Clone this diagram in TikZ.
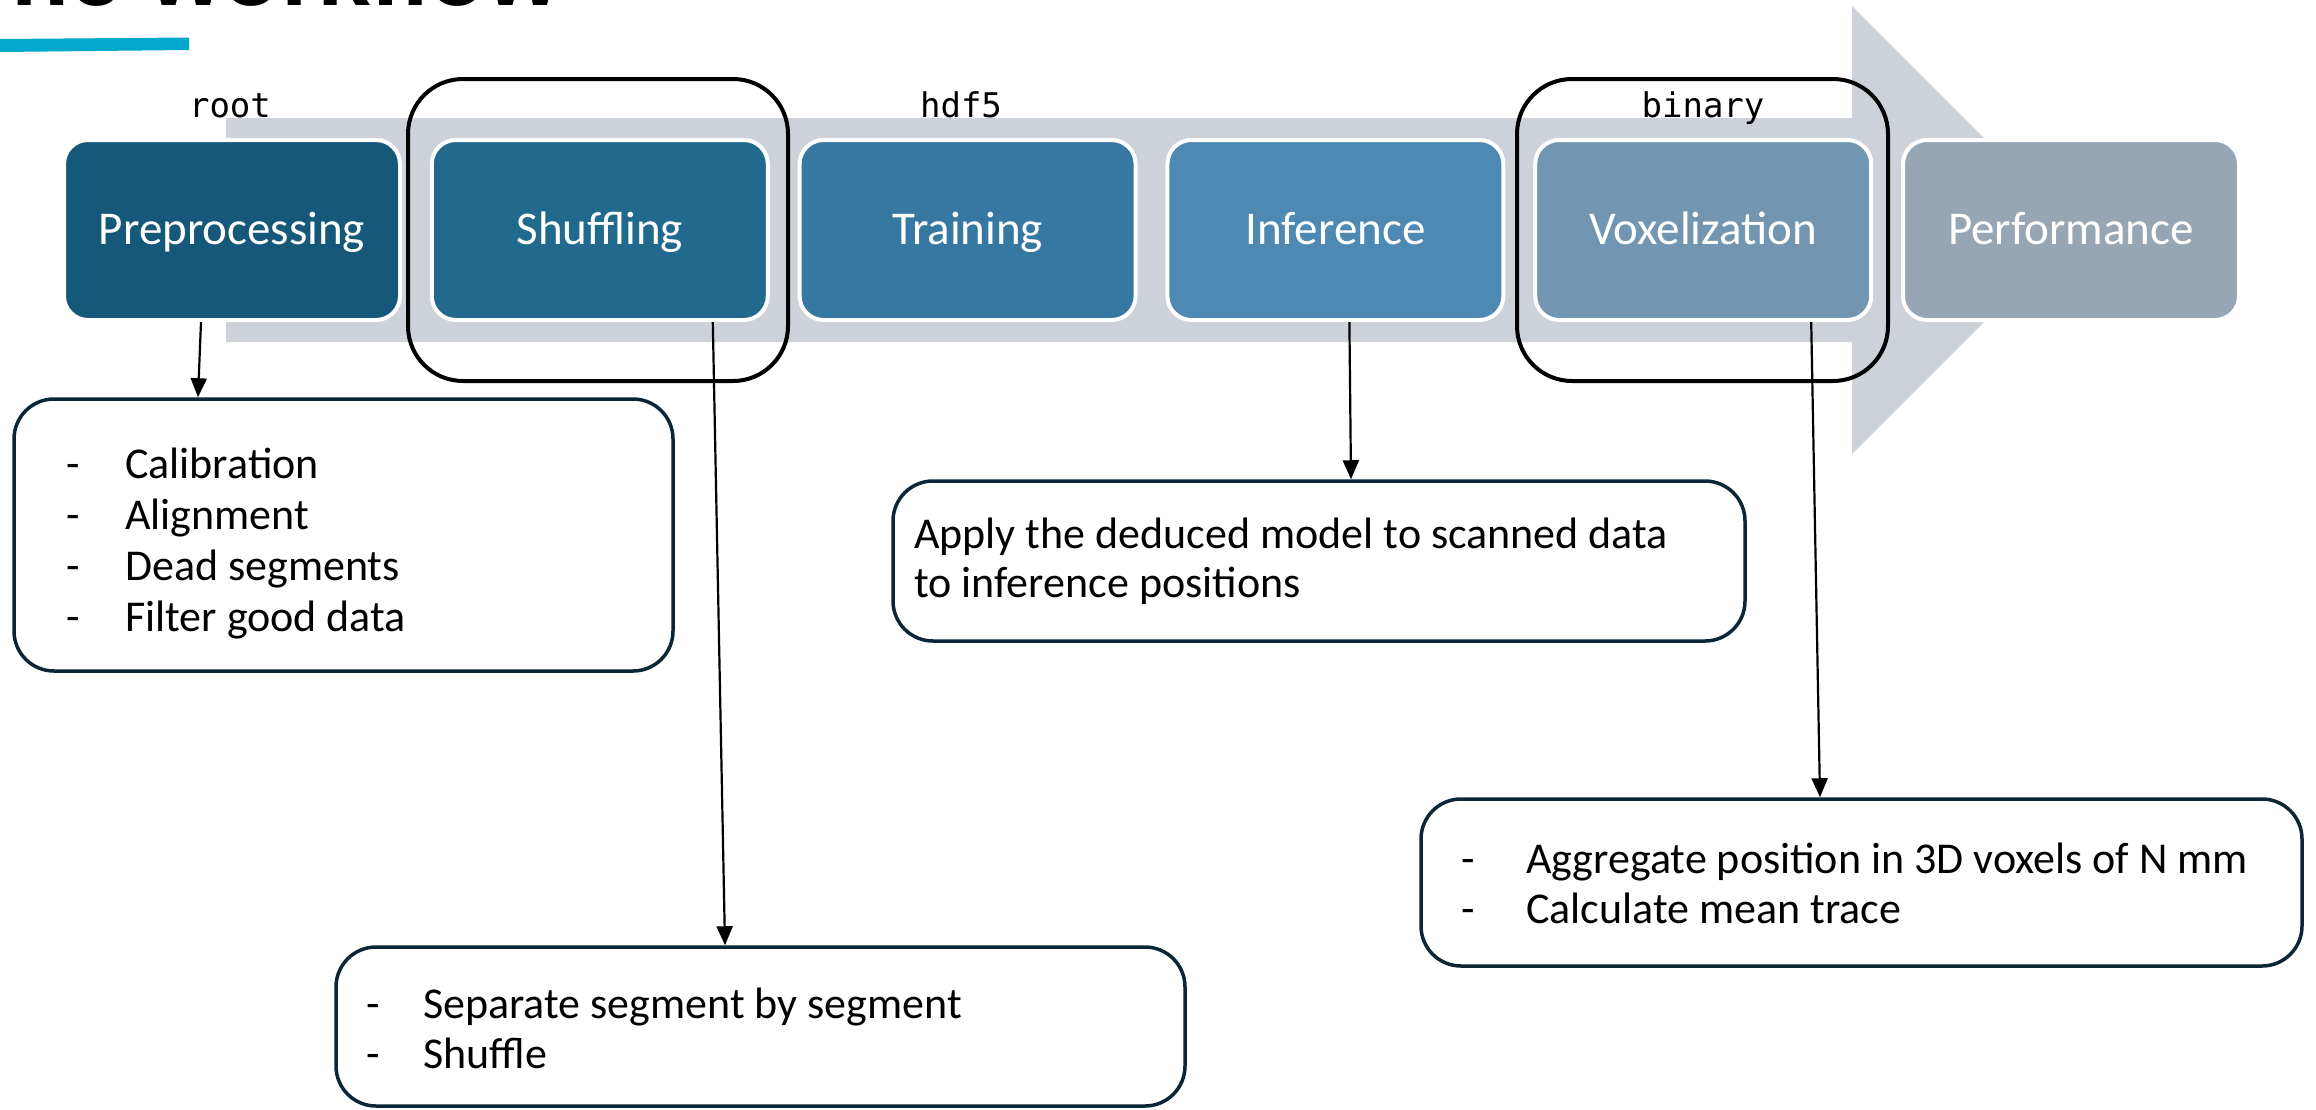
\documentclass[tikz,border=0pt]{standalone}
\usepackage{fontspec}
\setmainfont{Carlito}
\newfontfamily\codefont{DejaVu Sans Mono}
\newfontfamily\headfont{Liberation Sans}
\usetikzlibrary{arrows.meta}

\definecolor{stageA}{HTML}{16587A}
\definecolor{stageB}{HTML}{21698D}
\definecolor{stageC}{HTML}{3778A2}
\definecolor{stageD}{HTML}{4D89B2}
\definecolor{stageE}{HTML}{7296B1}
\definecolor{stageF}{HTML}{97A6B4}
\definecolor{bandgray}{HTML}{CDD2D9}
\definecolor{navyline}{HTML}{0B2637}
\definecolor{accentcyan}{HTML}{00A8CB}

\begin{document}
\begin{tikzpicture}[x=1pt,y=-1pt,
  stage/.style={rectangle, rounded corners=24pt, draw=white, line width=4pt,
    minimum width=336pt, minimum height=180pt, inner sep=0pt, text=white,
    font=\fontsize{47}{56}\selectfont, text height=28pt, text depth=0pt},
  selbox/.style={rectangle, rounded corners=55pt, draw=black, line width=4pt,
    minimum height=302pt, inner sep=0pt},
  fmtlabel/.style={inner sep=0pt, anchor=base, font=\codefont\fontsize{34}{40}\selectfont},
  detbox/.style={rectangle, rounded corners=40pt, draw=navyline, line width=3.5pt,
    fill=white, inner sep=0pt},
  dettext/.style={inner sep=0pt, anchor=base west, text=black},
  conn/.style={draw=black, line width=2.2pt, -{Triangle[width=16pt,length=19pt]}}
]
\useasboundingbox (0,0) rectangle (2316,1109);
\clip (0,0) rectangle (2316,1109);

% heading and accent bar
\node[anchor=base east, inner sep=0pt, font=\headfont\bfseries\fontsize{95}{110}\selectfont] (title) at (561,5) {The workflow};
\fill[accentcyan] (0,39) -- (189,37.5) -- (189,50) -- (0,52) -- cycle;

% process band with arrow head
\fill[bandgray] (226,118) -- (1852,118) -- (1852,6) -- (2076,230) -- (1852,454)
  -- (1852,342) -- (226,342) -- cycle;

% process stages
\node[stage, fill=stageA] (pre)   at (232,230)    {Preprocessing};
\node[stage, fill=stageB] (shuf)  at (599.8,230)  {Shuffling};
\node[stage, fill=stageC] (train) at (967.6,230)  {Training};
\node[stage, fill=stageD] (inf)   at (1335.4,230) {Inference};
\node[stage, fill=stageE] (vox)   at (1703.2,230) {Voxelization};
\node[stage, fill=stageF] (perf)  at (2071,230)   {Performance};

% highlighted stages
\node[selbox, minimum width=380pt] (shufsel) at (598,230) {};
\node[selbox, minimum width=371pt] (voxsel) at (1702.5,230) {};

% data formats
\node[fmtlabel] (lroot)   at (230,117)  {root};
\node[fmtlabel] (lhdf)    at (961,117)  {hdf5};
\node[fmtlabel] (lbinary) at (1703,117) {binary};

% detail boxes
\node[detbox, minimum width=659pt, minimum height=272pt] (detA) at (343.5,535) {};
\node[detbox, minimum width=849pt, minimum height=159pt] (detB) at (760.5,1026.5) {};
\node[detbox, minimum width=852pt, minimum height=160pt] (detC) at (1319,561) {};
\node[detbox, minimum width=881pt, minimum height=167pt] (detD) at (1861.5,882.5) {};

\node[dettext, font=\fontsize{44}{51}\selectfont] (detAtext) at (66,478)
  {\begin{tabular}[t]{@{}l@{}}
   \makebox[59pt][l]{-}Calibration\\
   \makebox[59pt][l]{-}Alignment\\
   \makebox[59pt][l]{-}Dead segments\\
   \makebox[59pt][l]{-}Filter good data
   \end{tabular}};
\node[dettext, font=\fontsize{44}{50}\selectfont] (detBtext) at (366,1018)
  {\begin{tabular}[t]{@{}l@{}}
   \makebox[57pt][l]{-}Separate segment by segment\\
   \makebox[57pt][l]{-}Shuffle
   \end{tabular}};
\node[dettext, font=\fontsize{44}{49}\selectfont] (detCtext) at (914,548)
  {\begin{tabular}[t]{@{}l@{}}
   Apply the deduced model to scanned data\\
   to inference positions
   \end{tabular}};
\node[dettext, font=\fontsize{44}{50}\selectfont] (detDtext) at (1461,873)
  {\begin{tabular}[t]{@{}l@{}}
   \makebox[65pt][l]{-}Aggregate position in 3D voxels of N mm\\
   \makebox[65pt][l]{-}Calculate mean trace
   \end{tabular}};

% connectors from stages to their details
\draw[conn] ([xshift=-31pt]pre.south)  -- ([xshift=-145.5pt]detA.north);
\draw[conn] ([xshift=113pt]shuf.south) -- ([xshift=-35.5pt]detB.north);
\draw[conn] ([xshift=14pt]inf.south)   -- ([xshift=32pt]detC.north);
\draw[conn] ([xshift=108pt]vox.south)  -- ([xshift=-41.5pt]detD.north);
\end{tikzpicture}
\end{document}
